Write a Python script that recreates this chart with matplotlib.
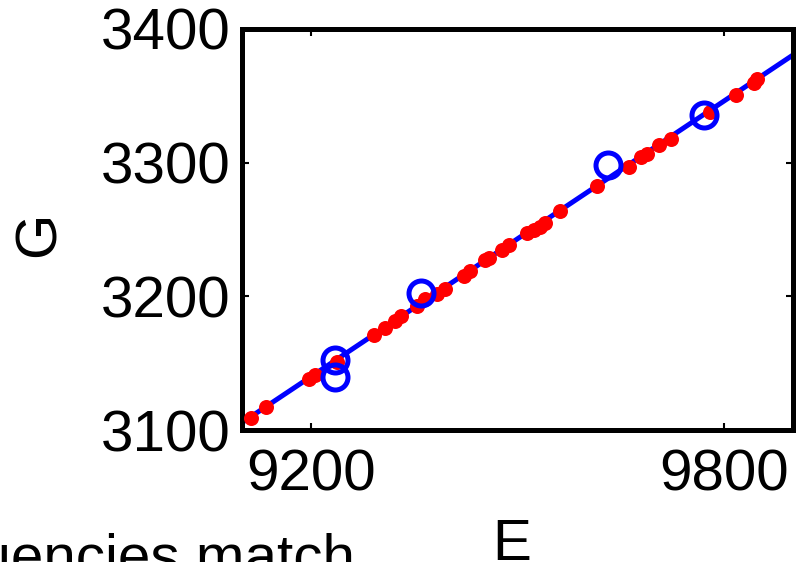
import matplotlib
matplotlib.use("Agg")
import matplotlib.pyplot as plt

plt.rcParams['font.family'] = ['Liberation Sans', 'DejaVu Sans']

# red points: measured E / G pairs
E_pts = [9113, 9135, 9197, 9206, 9238, 9291, 9308, 9322, 9331, 9354, 9366,
         9383, 9395, 9422, 9431, 9453, 9459, 9478, 9488, 9514, 9524, 9533,
         9540, 9562, 9616, 9662, 9679, 9688, 9705, 9723, 9780, 9817, 9843, 9848]
G_pts = [3108.7, 3117.5, 3138.3, 3140.8, 3150.9, 3171.1, 3176.2, 3181.3,
         3185.1, 3192.7, 3197.7, 3201.5, 3205.8, 3215.5, 3219.3, 3226.9,
         3228.6, 3234.5, 3238.7, 3247.1, 3249.7, 3252.2, 3254.7, 3264.1,
         3282.9, 3297.0, 3304.0, 3306.6, 3312.9, 3318.0, 3338.2, 3350.9,
         3359.8, 3362.3]

# blue circles
E_circ = [9235, 9235, 9360, 9632, 9771]
G_circ = [3152.2, 3139.6, 3202.8, 3298.5, 3335.7]

# fitted line ends
E_line = [9100, 9910]
G_line = [3105.5, 3384.0]

xticks = [9200, 9800]
yticks = [3100, 3200, 3300, 3400]

W, H = 798, 562
FS = 42
fig = plt.figure(figsize=(W / 100, H / 100), dpi=100)
ax = fig.add_axes([242 / W, (H - 430) / H, (793 - 242) / W, (430 - 29) / H])

ax.plot(E_line, G_line, color=(0, 0, 1), lw=3.6, zorder=2)
ax.plot(E_pts, G_pts, 'o', color=(1, 0, 0), ms=10.8, mew=0, zorder=3)
ax.plot(E_circ, G_circ, 'o', mfc='none', mec=(0, 0, 1), ms=18, mew=3.6, zorder=4)

ax.set_xlim(9100, 9900)
ax.set_ylim(3100, 3400)
ax.set_xticks(xticks)
ax.set_yticks(yticks)
ax.tick_params(direction='in', length=5, width=1.5, labelsize=FS,
               top=True, right=True)
ax.tick_params(axis='y', pad=8)
ax.tick_params(axis='x', pad=13)
for s in ax.spines.values():
    s.set_linewidth(3.6)

fig.text(40 / W, (H - 234) / H, 'G', rotation=90, fontsize=FS,
         ha='center', va='center')
fig.text(512 / W, (H - 560) / H, 'E', fontsize=FS, ha='center', va='baseline')
fig.text(355 / W, (H - 575) / H, 'quencies match', fontsize=FS,
         ha='right', va='baseline')

fig.savefig('out.png', dpi=100)
